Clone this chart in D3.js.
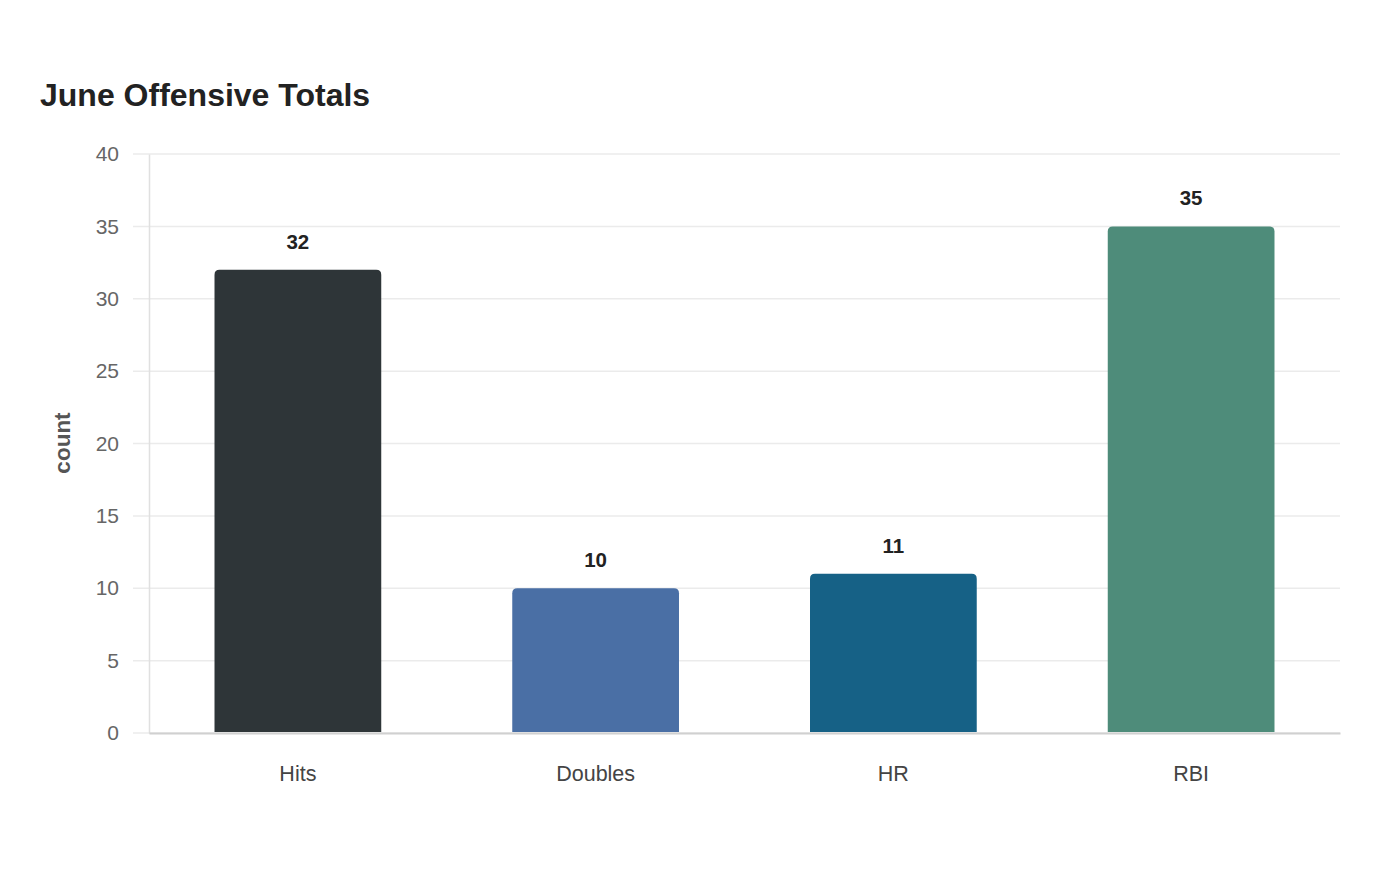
<!DOCTYPE html>
<html>
<head>
<meta charset="utf-8">
<script src="https://cdn.jsdelivr.net/npm/d3@7"></script>
<style>
  body { margin: 0; background: #fff; font-family: "Liberation Sans", Arial, sans-serif; }
</style>
</head>
<body>
<script>
// June offensive totals bar chart

let categories = ['Hits', 'Doubles', 'HR', 'RBI']
let counts = [32, 10, 11, 35]
let barColors = ['#2e3538', '#4a6fa5', '#166186', '#4e8c7a']
let yTicks = [0, 5, 10, 15, 20, 25, 30, 35, 40]

let width = 1400
let height = 880
let margin = { top: 154, right: 60, bottom: 147, left: 149 }
let innerW = width - margin.left - margin.right
let innerH = height - margin.top - margin.bottom

let svg = d3.select('body')
  .append('svg')
  .attr('width', width)
  .attr('height', height)

// title
svg.append('text')
  .attr('x', 40)
  .attr('y', 106)
  .attr('font-size', 32)
  .attr('font-weight', 'bold')
  .attr('fill', '#222')
  .text('June Offensive Totals')

let g = svg.append('g')
  .attr('transform', 'translate(' + margin.left + ',' + margin.top + ')')

// scales
let xScale = d3.scaleBand().domain(categories).range([0, innerW]).paddingInner(0.44).paddingOuter(0.22)
let yScale = d3.scaleLinear().domain([0, 40]).range([innerH, 0])

// gridlines
g.append('g')
  .selectAll('line')
  .data(yTicks)
  .join('line')
  .attr('x1', -16)
  .attr('x2', innerW)
  .attr('y1', d => yScale(d))
  .attr('y2', d => yScale(d))
  .attr('stroke', '#ebebeb')
  .attr('stroke-width', 1.5)

// y axis
let yAxis = d3.axisLeft(yScale).tickValues(yTicks).tickSize(0).tickPadding(30)
let yG = g.append('g').call(yAxis)
yG.select('.domain').attr('stroke', '#e0e0e0').attr('stroke-width', 1.5)
yG.selectAll('text').attr('font-size', 21).attr('fill', '#666').attr('font-family', '"Liberation Sans", Arial, sans-serif')

// bars with rounded tops
let r = 5
g.append('g')
  .selectAll('path')
  .data(categories)
  .join('path')
  .attr('fill', (d, i) => barColors[i])
  .attr('d', (d, i) => {
    let x0 = xScale(d)
    let w = xScale.bandwidth()
    let y0 = yScale(counts[i])
    let yb = yScale(0) - 1
    return 'M' + x0 + ',' + yb +
      'V' + (y0 + r) +
      'Q' + x0 + ',' + y0 + ' ' + (x0 + r) + ',' + y0 +
      'H' + (x0 + w - r) +
      'Q' + (x0 + w) + ',' + y0 + ' ' + (x0 + w) + ',' + (y0 + r) +
      'V' + yb + 'Z'
  })

// x axis
let xAxis = d3.axisBottom(xScale).tickSize(0).tickPadding(33)
let xG = g.append('g')
  .attr('transform', 'translate(0,' + innerH + ')')
  .call(xAxis)
xG.select('.domain').attr('stroke', '#d0d0d0').attr('stroke-width', 2)
xG.selectAll('text').attr('font-size', 21.5).attr('fill', '#444').attr('font-family', '"Liberation Sans", Arial, sans-serif')

// value labels
g.append('g')
  .selectAll('text')
  .data(categories)
  .join('text')
  .attr('x', d => xScale(d) + xScale.bandwidth() / 2)
  .attr('y', (d, i) => yScale(counts[i]) - 21)
  .attr('text-anchor', 'middle')
  .attr('font-size', 20.5)
  .attr('font-weight', 'bold')
  .attr('fill', '#222')
  .text((d, i) => counts[i])

// y axis label
svg.append('text')
  .attr('transform', 'translate(70,443) rotate(-90)')
  .attr('text-anchor', 'middle')
  .attr('font-size', 22.5)
  .attr('font-weight', 'bold')
  .attr('fill', '#555')
  .text('count')
</script>
</body>
</html>
